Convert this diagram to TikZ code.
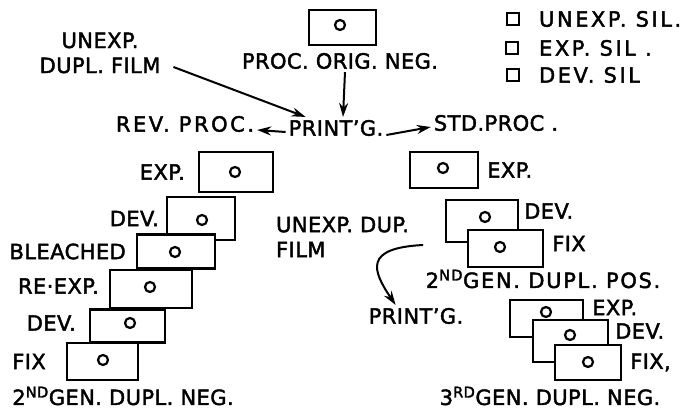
\documentclass[tikz,border=0pt]{standalone}
\usepackage{fontspec}
\setmainfont{DejaVu Sans}[LetterSpace=2, FakeBold=2]
\usetikzlibrary{arrows.meta, positioning, calc}

\begin{document}
\begin{tikzpicture}[x=1pt, y=-1pt, line width=2.2pt,
		every node/.style={font=\fontsize{21}{25}\selectfont, inner sep=2pt},
		wide/.style={font=\fontsize{21}{25}\selectfont\addfontfeature{LetterSpace=#1}},
		film/.style={draw, fill=white, inner sep=0pt},
		arr/.style={-{Stealth[length=14pt, width=9pt]}, line width=2pt},
		silbox/.style={draw, minimum size=12, inner sep=0pt, line width=2pt}]
		\useasboundingbox (0,0) rectangle (686,411);
		
		% Processed original negative
		\node[film, minimum width=67, minimum height=35] (orig) at (342.5,27.5) {};
		\draw (340,25) circle (5pt);
		\node (origlbl) at (340,61) {PROC. ORIG. NEG.};
		
		% Unexposed duplicating film and printing
		\node[align=center] (dupl) at (100,53) {UNEXP.\\DUPL. FILM};
		\node (print) at (336,128) {PRINT’G.};
		\node[wide=12] (rev) at (185,124) {REV. PROC.};
		\node (std) at (496,123) {STD.PROC .};
		\draw[arr] ([xshift=10pt,yshift=-14pt]dupl.east) -- ([xshift=20pt]print.north west);
		\draw[arr] ([xshift=5pt]origlbl.south) -- ([xshift=7pt]print.north);
		\draw[arr] ([yshift=-4pt]print.west) -- ([yshift=-6pt]rev.east);
		\draw[arr] ([yshift=-7pt]print.east) -- ([yshift=-4pt]std.west);
		
		% Reversal processing: 2nd gen. dupl. negative
		\node[film, minimum width=74, minimum height=40] (lexp) at (236,172) {};
		\draw (235,172) circle (5pt);
		\node[left=10pt of lexp] (lexplbl) {EXP.};
		\node[film, minimum width=68, minimum height=43] (ldev) at (201,218.5) {};
		\draw (202,220) circle (5pt);
		\node[left=4pt of ldev] (ldevlbl) {DEV.};
		\node[film, minimum width=78, minimum height=34] (lbleach) at (176,251.5) {};
		\draw (175,252) circle (5pt);
		\node[left=7pt of lbleach] (lbleachlbl) {BLEACHED};
		\node[film, minimum width=82, minimum height=38] (lreexp) at (151,289) {};
		\draw (150,287) circle (5pt);
		\node[left=7pt of lreexp, yshift=3pt] (lreexplbl) {RE·EXP.};
		\node[film, minimum width=75, minimum height=33] (ldevb) at (127.5,326) {};
		\draw (130,323) circle (5pt);
		\node[left=10pt of ldevb, yshift=3pt] (ldevblbl) {DEV.};
		\node[film, minimum width=71, minimum height=37] (lfix) at (102.5,361.5) {};
		\draw (103,360) circle (5pt);
		\node[left=17pt of lfix] (lfixlbl) {FIX};
		\node (neg2) at (123,396) {2\textsuperscript{ND}GEN. DUPL. NEG.};
		
		% Standard processing: 2nd gen. dupl. positive
		\node[film, minimum width=68, minimum height=36] (rexp) at (444,170) {};
		\draw (443,168) circle (5pt);
		\node[right=5pt of rexp] (rexplbl) {EXP.};
		\node[film, minimum width=72, minimum height=42] (rdev) at (482,221) {};
		\draw (485,217) circle (5pt);
		\node[right=2pt of rdev, yshift=10pt] (rdevlbl) {DEV.};
		\node[film, minimum width=75, minimum height=37] (rfix) at (505.5,248.5) {};
		\draw (500,247) circle (5pt);
		\node[right=5pt of rfix, yshift=5pt] (rfixlbl) {FIX};
		\node[wide=8] (pos2) at (543,279) {2\textsuperscript{ND}GEN. DUPL. POS.};
		
		% Printing on unexposed dup. film
		\node[align=left, anchor=west] (dup) at (273,237) {UNEXP. DUP.\\FILM};
		\node (print2) at (416,316) {PRINT’G.};
		\draw[arr] ([xshift=11pt,yshift=-8pt]dup.east) .. controls (364,248) and (372,270) .. ([xshift=30pt]print2.north west);
		
		% 3rd gen. dupl. negative
		\node[film, minimum width=73, minimum height=37] (texp) at (546.5,318.5) {};
		\draw (546,312) circle (5pt);
		\node[right=5pt of texp, yshift=11pt] (texplbl) {EXP.};
		\node[film, minimum width=75, minimum height=42] (tdev) at (570.5,341) {};
		\draw (570,335) circle (5pt);
		\node[right=3pt of tdev, yshift=10pt] (tdevlbl) {DEV.};
		\node[film, minimum width=66, minimum height=35] (tfix) at (588,362.5) {};
		\draw (588,362) circle (5pt);
		\node[right=5pt of tfix] (tfixlbl) {FIX,};
		\node (neg3) at (550,396) {3\textsuperscript{RD}GEN. DUPL. NEG.};
		
		% Legend
		\node[silbox] (sq1) at (513,19) {};
		\node[wide=12, right=16pt of sq1] (unexpsil) {UNEXP. SIL.};
		\node[silbox] (sq2) at (512,48) {};
		\node[wide=12, right=17pt of sq2] (expsil) {EXP. SIL .};
		\node[silbox] (sq3) at (513,75) {};
		\node[wide=12, right=16pt of sq3] (devsil) {DEV. SIL};
	\end{tikzpicture}
\end{document}
